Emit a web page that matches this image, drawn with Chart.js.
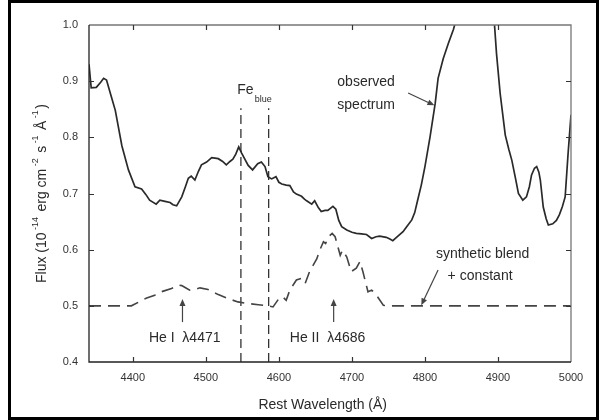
<!DOCTYPE html>
<html>
<head>
<meta charset="utf-8">
<script src="https://cdn.jsdelivr.net/npm/chart.js@4.4.1/dist/chart.umd.min.js"></script>
<style>
  html, body { margin: 0; padding: 0; background: #fff; }
  #wrap { width: 604px; height: 420px; }
</style>
</head>
<body>
<div id="wrap"><canvas id="spec" width="604" height="420"></canvas></div>
<script>
// observed spectrum (rest wavelength in Å, flux in 1e-14 erg cm^-2 s^-1 Å^-1)
const waveObs = [4340, 4343, 4350, 4356, 4360, 4364, 4370, 4376, 4385, 4394, 4403, 4412, 4418, 4423, 4432,
  4437, 4444, 4451, 4455, 4460, 4467, 4472, 4476, 4480, 4485, 4490, 4494, 4501, 4508, 4517, 4523, 4528,
  4533, 4537, 4541, 4545, 4549, 4553, 4558, 4564, 4571, 4576, 4581, 4585, 4590, 4596, 4600, 4604, 4610,
  4615, 4620, 4624, 4631, 4635, 4638, 4645, 4649, 4654, 4658, 4663, 4667, 4674, 4678, 4682, 4686, 4693,
  4700, 4706, 4713, 4720, 4727, 4733, 4738, 4747, 4752, 4756, 4763, 4770, 4775, 4782, 4786, 4790, 4795,
  4800, 4807, 4814, 4818, 4825, 4832, 4839, 4845, 4860, 4875, 4888, 4895, 4898, 4903, 4910, 4915, 4919,
  4924, 4928, 4934, 4939, 4943, 4946, 4950, 4953, 4956, 4958, 4962, 4966, 4969, 4975, 4980, 4984, 4988,
  4992, 4996, 5000];
const fluxObs = [0.930, 0.888, 0.889, 0.898, 0.905, 0.902, 0.875, 0.848, 0.785, 0.742, 0.712, 0.708, 0.698,
  0.688, 0.681, 0.688, 0.686, 0.684, 0.680, 0.678, 0.694, 0.712, 0.727, 0.731, 0.724, 0.740, 0.751, 0.756,
  0.764, 0.762, 0.757, 0.751, 0.757, 0.761, 0.770, 0.783, 0.772, 0.762, 0.750, 0.742, 0.753, 0.756, 0.748,
  0.730, 0.726, 0.730, 0.720, 0.717, 0.715, 0.714, 0.703, 0.699, 0.695, 0.690, 0.687, 0.681, 0.687, 0.675,
  0.668, 0.670, 0.670, 0.677, 0.672, 0.652, 0.641, 0.635, 0.631, 0.629, 0.628, 0.627, 0.620, 0.623, 0.624,
  0.622, 0.619, 0.616, 0.624, 0.632, 0.641, 0.653, 0.666, 0.688, 0.715, 0.748, 0.801, 0.860, 0.905, 0.940,
  0.967, 0.992, 1.020, 1.080, 1.100, 1.060, 1.005, 0.949, 0.878, 0.804, 0.778, 0.759, 0.727, 0.700, 0.688,
  0.694, 0.712, 0.733, 0.745, 0.748, 0.738, 0.724, 0.676, 0.655, 0.644, 0.646, 0.652, 0.662, 0.676, 0.694,
  0.771, 0.840];

// synthetic He I / He II blend plus constant
const waveSyn = [4340, 4398, 4410, 4419, 4430, 4439, 4453, 4463, 4467, 4471, 4478, 4485, 4492, 4503, 4517,
  4530, 4544, 4558, 4572, 4585, 4592, 4599, 4603, 4606, 4610, 4615, 4624, 4631, 4636, 4642, 4652, 4656,
  4661, 4664, 4668, 4673, 4677, 4684, 4687, 4693, 4699, 4706, 4711, 4715, 4722, 4727, 4732, 4743, 4750, 5000];
const fluxSyn = [0.500, 0.500, 0.508, 0.514, 0.519, 0.525, 0.531, 0.537, 0.536, 0.533, 0.528, 0.529, 0.532,
  0.529, 0.520, 0.513, 0.507, 0.504, 0.502, 0.500, 0.498, 0.511, 0.516, 0.515, 0.510, 0.528, 0.546, 0.549,
  0.540, 0.561, 0.584, 0.599, 0.614, 0.611, 0.623, 0.629, 0.623, 0.590, 0.599, 0.587, 0.561, 0.567, 0.579,
  0.561, 0.525, 0.528, 0.522, 0.501, 0.500, 0.500];

// Fe (blue) band edges
const feEdges = [4548, 4586];
const feTop = 0.852;

const xTicks = [4400, 4500, 4600, 4700, 4800, 4900, 5000];
const yTicks = [0.4, 0.5, 0.6, 0.7, 0.8, 0.9, 1.0];

const FONT = '"Liberation Sans", Arial, Helvetica, sans-serif';
const INK = '#2a2a2a';

const pts = (xs, ys) => xs.map((x, i) => ({ x: x, y: ys[i] }));

function arrow(ctx, x0, y0, x1, y1) {
  const a = Math.atan2(y1 - y0, x1 - x0);
  const hl = 7, hw = 3;
  ctx.beginPath();
  ctx.moveTo(x0, y0);
  ctx.lineTo(x1 - Math.cos(a) * hl * 0.8, y1 - Math.sin(a) * hl * 0.8);
  ctx.stroke();
  ctx.beginPath();
  ctx.moveTo(x1, y1);
  ctx.lineTo(x1 - hl * Math.cos(a) + hw * Math.sin(a), y1 - hl * Math.sin(a) - hw * Math.cos(a));
  ctx.lineTo(x1 - hl * Math.cos(a) - hw * Math.sin(a), y1 - hl * Math.sin(a) + hw * Math.cos(a));
  ctx.closePath();
  ctx.fill();
}

// frame with inward ticks, labels, arrows and the outer box
const decorations = {
  id: 'decorations',
  afterDraw(chart) {
    const { ctx, chartArea: a, scales } = chart;
    const X = v => scales.x.getPixelForValue(v);
    const Y = v => scales.y.getPixelForValue(v);
    ctx.save();

    ctx.lineWidth = 1.3;
    ctx.strokeStyle = '#777';
    ctx.beginPath();
    ctx.moveTo(a.left, a.top); ctx.lineTo(a.right, a.top); ctx.lineTo(a.right, a.bottom);
    ctx.stroke();
    ctx.strokeStyle = '#222';
    ctx.beginPath();
    ctx.moveTo(a.left, a.top); ctx.lineTo(a.left, a.bottom); ctx.lineTo(a.right, a.bottom);
    ctx.stroke();

    const tl = 5;
    ctx.lineWidth = 1.2;
    ctx.strokeStyle = '#333';
    ctx.beginPath();
    xTicks.forEach(v => {
      if (v >= 5000) return;
      const x = Math.round(X(v)) + 0.5;
      ctx.moveTo(x, a.bottom); ctx.lineTo(x, a.bottom - tl);
      ctx.moveTo(x, a.top); ctx.lineTo(x, a.top + tl);
    });
    yTicks.forEach(v => {
      if (v <= 0.4 || v >= 1.0) return;
      const y = Math.round(Y(v)) + 0.5;
      ctx.moveTo(a.left, y); ctx.lineTo(a.left + tl, y);
      ctx.moveTo(a.right, y); ctx.lineTo(a.right - tl, y);
    });
    ctx.stroke();

    // text annotations
    ctx.fillStyle = INK;
    ctx.textBaseline = 'middle';
    ctx.textAlign = 'left';
    ctx.font = '14px ' + FONT;
    ctx.fillText('Fe', X(4543), Y(0.884));
    ctx.font = '9px ' + FONT;
    ctx.fillText('blue', X(4567), Y(0.867));
    ctx.font = '14px ' + FONT;
    ctx.fillText('observed', X(4680), Y(0.898));
    ctx.fillText('spectrum', X(4680), Y(0.857));
    ctx.fillText('synthetic blend', X(4815), Y(0.592));
    ctx.fillText('+ constant', X(4831), Y(0.553));
    ctx.fillText('He I  \u03bb4471', X(4422), Y(0.443));
    ctx.fillText('He II  \u03bb4686', X(4615), Y(0.443));

    // arrows
    ctx.strokeStyle = '#444';
    ctx.fillStyle = '#444';
    ctx.lineWidth = 1.2;
    arrow(ctx, X(4777), Y(0.879), X(4813), Y(0.857));
    arrow(ctx, X(4818), Y(0.564), X(4795), Y(0.501));
    arrow(ctx, X(4468), Y(0.471), X(4468), Y(0.512));
    arrow(ctx, X(4675), Y(0.471), X(4675), Y(0.512));

    // axis titles
    ctx.fillStyle = INK;
    ctx.textAlign = 'center';
    ctx.font = '14px ' + FONT;
    ctx.fillText('Rest Wavelength (\u00c5)', X(4660), a.bottom + 43);

    const parts = [
      ['Flux (10', false], [' -14', true], [' erg cm', false], [' -2', true],
      [' s', false], [' -1', true], [' \u00c5', false], [' -1', true], [')', false]
    ];
    const fMain = '14px ' + FONT, fSup = '9px ' + FONT;
    let total = 0;
    parts.forEach(([t, sup]) => { ctx.font = sup ? fSup : fMain; total += ctx.measureText(t).width + (sup ? 1.5 : 0); });
    ctx.translate(42, (a.top + a.bottom) / 2);
    ctx.rotate(-Math.PI / 2);
    ctx.textAlign = 'left';
    let cx = -total / 2;
    parts.forEach(([t, sup]) => {
      ctx.font = sup ? fSup : fMain;
      ctx.fillText(t, cx, sup ? -6 : 0);
      cx += ctx.measureText(t).width + (sup ? 1.5 : 0);
    });
    ctx.setTransform(1, 0, 0, 1, 0, 0);

    // outer box
    ctx.strokeStyle = '#000';
    ctx.lineWidth = 3;
    ctx.strokeRect(9.5, 1.5, 588, 417);
    ctx.restore();
  }
};

new Chart(document.getElementById('spec'), {
  type: 'line',
  data: {
    datasets: [
      {
        data: pts(waveObs, fluxObs),
        borderColor: INK, borderWidth: 1.7, pointRadius: 0, tension: 0
      },
      {
        data: pts(waveSyn, fluxSyn),
        borderColor: '#444', borderWidth: 1.6, borderDash: [12, 7], pointRadius: 0, tension: 0
      },
      ...feEdges.map(w => ({
        data: [{ x: w, y: 0.4 }, { x: w, y: feTop }],
        borderColor: '#333', borderWidth: 1.3, borderDash: [9, 5], pointRadius: 0
      }))
    ]
  },
  options: {
    responsive: false,
    animation: false,
    devicePixelRatio: 1,
    layout: { padding: { left: 0, right: 33, top: 25, bottom: 0 } },
    plugins: { legend: { display: false }, tooltip: { enabled: false } },
    scales: {
      x: {
        type: 'linear', min: 4340, max: 5000,
        grid: { display: false, drawTicks: false }, border: { display: false },
        afterBuildTicks: s => { s.ticks = xTicks.map(v => ({ value: v })); },
        afterFit: s => { s.height = 58; },
        ticks: { autoSkip: false, maxRotation: 0, padding: 9, color: '#333',
          font: { family: FONT, size: 11 }, callback: v => String(v) }
      },
      y: {
        type: 'linear', min: 0.4, max: 1.0,
        grid: { display: false, drawTicks: false }, border: { display: false },
        afterBuildTicks: s => { s.ticks = yTicks.map(v => ({ value: v })); },
        afterFit: s => { s.width = 89; },
        ticks: { padding: 11, color: '#333',
          font: { family: FONT, size: 11 }, callback: v => v.toFixed(1) }
      }
    }
  },
  plugins: [decorations]
});
</script>
</body>
</html>
